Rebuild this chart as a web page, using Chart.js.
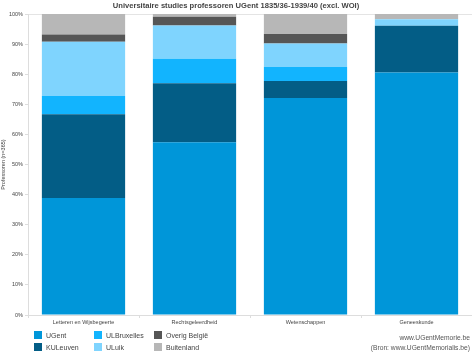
<!DOCTYPE html>
<html>
<head>
<meta charset="utf-8">
<script src="https://cdn.jsdelivr.net/npm/chart.js@4"></script>
<style>
  body { margin: 0; background: #fff; font-family: Arial, "Liberation Sans", sans-serif; }
  #wrap { position: relative; width: 472px; height: 352px; }
  #legend { position: absolute; left: 34px; top: 331px; width: 190px; font-size: 7px; color: #444; }
  .item { position: absolute; display: flex; align-items: center; white-space: nowrap; }
  .item i { display: inline-block; width: 8px; height: 8px; margin-right: 4px; }
  #bron { position: absolute; right: 2px; top: 333px; text-align: right; font-size: 6.7px; line-height: 10px; color: #555; }
</style>
</head>
<body>
<div id="wrap">
  <canvas id="chart" width="472" height="352"></canvas>
  <div id="legend"></div>
  <div id="bron">www.UGentMemorie.be<br>(Bron: www.UGentMemorialis.be)</div>
</div>
<script>
// Gegevens (percentages per faculteit)
const faculteiten = ['Letteren en Wijsbegeerte', 'Rechtsgeleerdheid', 'Wetenschappen', 'Geneeskunde'];
const ugent      = [38.9, 57.4, 72.1, 80.6];
const kuleuven   = [27.8, 19.6, 5.7, 15.5];
const ulbruxelles = [6.1, 8.2, 4.6, 0];
const ulluik     = [18.0, 11.0, 7.8, 2.2];
const overig     = [2.4, 2.9, 3.2, 0];
const buitenland = [6.8, 0.9, 6.6, 1.7];
const yTicks = [0, 10, 20, 30, 40, 50, 60, 70, 80, 90, 100];

const series = [
  { label: 'UGent', data: ugent, color: '#0096d9' },
  { label: 'KULeuven', data: kuleuven, color: '#035d86' },
  { label: 'ULBruxelles', data: ulbruxelles, color: '#12b4fe' },
  { label: 'ULuik', data: ulluik, color: '#7fd4fe' },
  { label: 'Overig België', data: overig, color: '#565656' },
  { label: 'Buitenland', data: buitenland, color: '#b7b7b7' }
];

const ctx = document.getElementById('chart').getContext('2d');
const chart = new Chart(ctx, {
  type: 'bar',
  data: {
    labels: faculteiten,
    datasets: series.map(s => ({
      label: s.label, data: s.data, backgroundColor: s.color,
      borderWidth: 0, barPercentage: 0.75, categoryPercentage: 1
    }))
  },
  options: {
    responsive: false,
    animation: false,
    layout: { padding: { left: 0, right: 0, top: 0, bottom: 25 } },
    plugins: {
      legend: { display: false },
      tooltip: { enabled: false },
      title: {
        display: true,
        text: 'Universitaire studies professoren UGent 1835/36-1939/40 (excl. WOI)',
        color: '#444',
        font: { family: 'Arial', size: 7.6, weight: 'bold' },
        padding: { top: 1, bottom: 4 }
      }
    },
    scales: {
      x: {
        stacked: true,
        afterFit: s => { s.height = 12; },
        grid: { display: true, drawOnChartArea: false, offset: true, tickLength: 3, color: '#ddd' },
        border: { color: '#ddd' },
        ticks: { color: '#444', font: { family: 'Arial', size: 5.5 }, padding: 1, maxRotation: 0 }
      },
      y: {
        stacked: true, min: 0, max: 100,
        afterFit: s => { s.width = 28; },
        afterBuildTicks: s => { s.ticks = yTicks.map(v => ({ value: v })); },
        grid: {
          color: c => (c.tick && c.tick.value === 100) ? '#e4e4e4' : 'transparent',
          tickColor: '#ddd', tickLength: 3
        },
        border: { color: '#ddd' },
        ticks: {
          color: '#444', font: { family: 'Arial', size: 5.5 }, padding: 2,
          callback: v => v + '%'
        },
        title: {
          display: true, text: 'Professoren (n=365)', color: '#444',
          font: { family: 'Arial', size: 5.5 }, padding: 0
        }
      }
    }
  }
});

// Legende in kolommen (zoals origineel)
const legend = document.getElementById('legend');
chart.data.datasets.forEach((d, i) => {
  const el = document.createElement('div');
  el.className = 'item';
  el.style.left = (Math.floor(i / 2) * 60) + 'px';
  el.style.top = ((i % 2) * 12) + 'px';
  el.innerHTML = `<i style="background:${d.backgroundColor}"></i>${d.label}`;
  legend.appendChild(el);
});
</script>
</body>
</html>
